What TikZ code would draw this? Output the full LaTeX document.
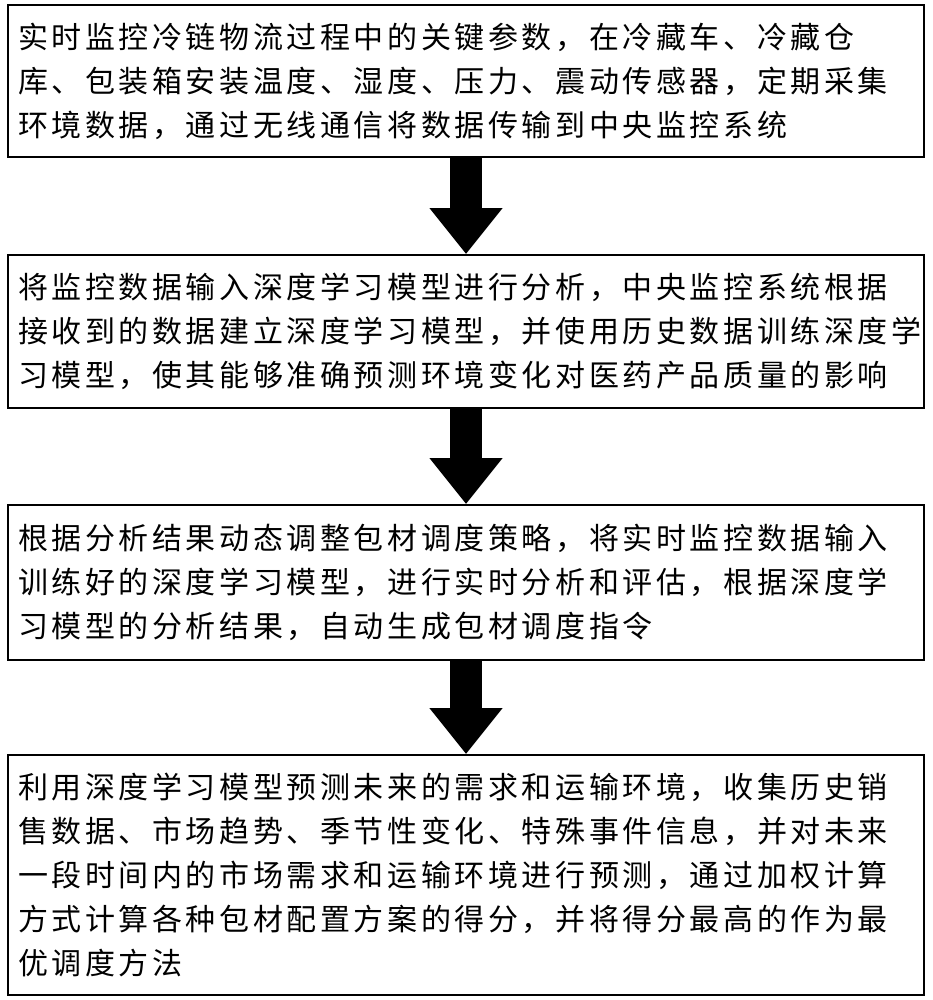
\documentclass[tikz,border=0pt]{standalone}
\usepackage{fontspec}
\newfontfamily\cjk[LetterSpace=12]{Noto Sans CJK SC}
\usetikzlibrary{arrows.meta}
\tikzset{
  stepbox/.style={draw, line width=1.8pt, minimum width=916pt, text width=896pt, align=left, inner sep=10pt, font=\cjk\fontsize{30}{44}\selectfont},
  flow/.style={line width=32pt, -{Triangle[length=46pt,width=70pt]}}
}
\begin{document}
\begin{tikzpicture}[x=1pt,y=-1pt]
\useasboundingbox (0,0) rectangle (932,1000);
\node[stepbox, minimum height=152pt] (b1) at (466,81) {实时监控冷链物流过程中的关键参数，在冷藏车、冷藏仓\\库、包装箱安装温度、湿度、压力、震动传感器，定期采集\\环境数据，通过无线通信将数据传输到中央监控系统};
\node[stepbox, minimum height=153pt] (b2) at (466,331.5) {将监控数据输入深度学习模型进行分析，中央监控系统根据\\接收到的数据建立深度学习模型，并使用历史数据训练深度学\\习模型，使其能够准确预测环境变化对医药产品质量的影响};
\node[stepbox, minimum height=155pt] (b3) at (466,582.5) {根据分析结果动态调整包材调度策略，将实时监控数据输入\\训练好的深度学习模型，进行实时分析和评估，根据深度学\\习模型的分析结果，自动生成包材调度指令};
\node[stepbox, minimum height=240pt] (b4) at (466,875) {利用深度学习模型预测未来的需求和运输环境，收集历史销\\售数据、市场趋势、季节性变化、特殊事件信息，并对未来\\一段时间内的市场需求和运输环境进行预测，通过加权计算\\方式计算各种包材配置方案的得分，并将得分最高的作为最\\优调度方法};
\draw[flow] (b1.south) -- (b2.north);
\draw[flow] (b2.south) -- (b3.north);
\draw[flow] (b3.south) -- (b4.north);
\end{tikzpicture}
\end{document}
